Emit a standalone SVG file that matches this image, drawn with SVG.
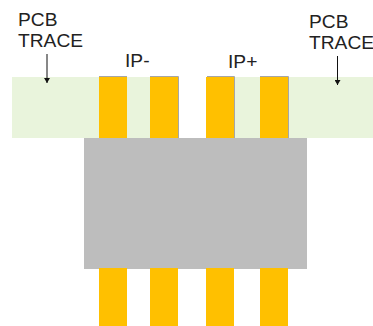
<svg xmlns="http://www.w3.org/2000/svg" width="373" height="326" viewBox="0 0 373 326">
<style>
.t{font-family:"Liberation Sans",Arial,sans-serif;font-size:19.2px;fill:#222}
.g{fill:#e9f4dc}
.o{fill:#ffc000}
.e{stroke:#a6a6a6;stroke-width:1;fill:none}
.c{stroke:#111;stroke-width:1;fill:none}
</style>
<defs><marker id="a" markerWidth="6" markerHeight="6" refX="5" refY="3" orient="auto" markerUnits="userSpaceOnUse"><path d="M0 0L5 3L0 6z" fill="#111"/></marker></defs>
<g id="trace-left"><rect class="g" x="12" y="77" width="167" height="61"/></g>
<g id="trace-right"><rect class="g" x="206" y="77" width="167" height="61"/></g>
<g id="pins-top">
<path class="e" d="M99 76.500H127M150 76.500H178.500V138M207 76.500H234.500V138M260 76.500H288.500V138"/>
<rect class="o" x="99" y="77" width="28" height="61"/>
<rect class="o" x="150" y="77" width="28" height="61"/>
<rect class="o" x="206" y="77" width="28" height="61"/>
<rect class="o" x="260" y="77" width="28" height="61"/>
</g>
<g id="package"><rect x="84" y="138" width="223" height="131" fill="#bdbdbd"/></g>
<g id="pins-bottom">
<rect class="o" x="99" y="268" width="28" height="58"/>
<rect class="o" x="150" y="268" width="28" height="58"/>
<rect class="o" x="206" y="268" width="28" height="58"/>
<rect class="o" x="260" y="268" width="28" height="58"/>
</g>
<g id="connectors">
<path class="c" d="M47 54V83" marker-end="url(#a)"/>
<path class="c" d="M337.500 56V85" marker-end="url(#a)"/>
</g>
<g id="labels">
<text class="t" x="18" y="26">PCB</text>
<text class="t" x="18" y="47">TRACE</text>
<text class="t" x="125" y="67">IP-</text>
<text class="t" x="228" y="68">IP+</text>
<text class="t" x="309" y="28">PCB</text>
<text class="t" x="309" y="49">TRACE</text>
</g>
</svg>
